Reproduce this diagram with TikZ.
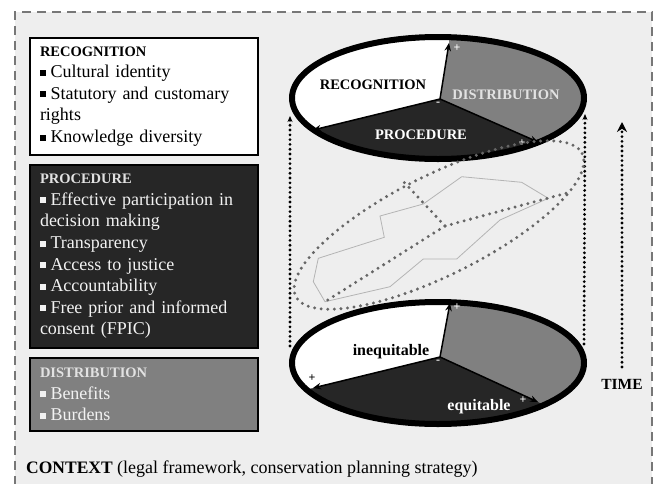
\documentclass[tikz,border=0pt]{standalone}
\usepackage{fontspec}
\setmainfont{Liberation Serif}
\usetikzlibrary{arrows.meta}
\definecolor{bgc}{HTML}{EEEEEE}
\definecolor{darkc}{HTML}{262626}
\definecolor{midc}{HTML}{808080}
\definecolor{dashc}{HTML}{777777}
\definecolor{dotg}{HTML}{666666}
\definecolor{polyc}{HTML}{B4B4B4}
\definecolor{ltc}{HTML}{E2E2E2}
\definecolor{txtw}{HTML}{F2F2F2}
\newcommand\sqbul{\rule[1.9pt]{6pt}{6pt}\hspace{4.5pt}}
\newcommand\boxttl{\fontsize{14.5}{21.6}\selectfont\bfseries}
\begin{document}
\begin{tikzpicture}[x=1pt,y=-1pt,
  infobox/.style={draw=black, line width=2.8pt, minimum width=228pt, text width=208pt,
    align=left, inner xsep=10pt, inner ysep=0pt, font=\fontsize{18}{21.6}\selectfont},
  rim/.style={draw=black, line width=6pt},
  spoke/.style={draw=black, line width=1.5pt, -{Stealth[length=8pt,width=6.5pt]}},
  piettl/.style={font=\fontsize{14.5}{16}\selectfont\bfseries, inner sep=0pt},
  eqlbl/.style={font=\fontsize{16}{18}\selectfont\bfseries, inner sep=0pt},
  sgn/.style={font=\fontsize{12}{12}\selectfont\bfseries, inner sep=0pt},
  bdot/.style={draw=black, line width=3.1pt, line cap=round, dash pattern=on 0pt off 4.8pt},
  gdot/.style={draw=dotg, line width=3.3pt, line cap=round, dash pattern=on 0pt off 6.6pt},
]
\useasboundingbox (0,0) rectangle (662,483);
% background and dashed frame
\fill[bgc] (15,12) rectangle (652,500);
\draw[dashc, line width=2.6pt, dash pattern=on 9pt off 6pt] (15,500) -- (15,12) -- (652,12) -- (652,500);

% left boxes
\node[infobox, fill=white, text=black, minimum height=117pt] (rec) at (144,96.5)
 {{\boxttl RECOGNITION}\\
  \sqbul Cultural identity\\
  \sqbul Statutory and customary\\
  rights\\
  \sqbul Knowledge diversity};
\node[infobox, fill=darkc, text=txtw, minimum height=183pt] (proc) at (144,256.5)
 {{\boxttl\color{ltc}PROCEDURE}\\
  \sqbul Effective participation in\\
  decision making\\
  \sqbul Transparency\\
  \sqbul Access to justice\\
  \sqbul Accountability\\
  \sqbul Free prior and informed\\
  consent (FPIC)};
\node[infobox, fill=midc, text=txtw, minimum height=73pt] (dist) at (144,394.5)
 {{\boxttl\color{ltc}DISTRIBUTION}\\
  \sqbul Benefits\\
  \sqbul Burdens};

\node[anchor=base west, inner sep=0pt, font=\fontsize{18}{21.6}\selectfont] (ctx) at (26,473)
 {{\fontsize{17.5}{21.6}\selectfont\bfseries CONTEXT} (legal framework, conservation planning strategy)};

% vertical dotted connectors
\coordinate (lbot) at (290,346);
\coordinate (ltop) at (290,116);
\coordinate (rbot) at (584,344);
\coordinate (rtop) at (585,114);
\draw[bdot, -{Stealth[length=6pt,width=5pt]}] (lbot) -- (ltop);
\draw[bdot, -{Stealth[length=6pt,width=5pt]}] (rbot) -- (rtop);

% time arrow
\coordinate (timebot) at (622,367);
\coordinate (timetop) at (622,122);
\draw[bdot, -{Stealth[length=10pt,width=10pt]}] (timebot) -- (timetop);
\node[font=\fontsize{15.5}{17}\selectfont\bfseries, inner sep=0pt] (time) at (622,384) {TIME};

% bottom pie
\coordinate (bc) at (440,357);
\coordinate (bt) at (450,303);
\coordinate (bl) at (313,388);
\coordinate (br) at (538,402);
\begin{scope}
  \clip (438,363) ellipse [x radius=146, y radius=61];
  \fill[darkc] (280,290) rectangle (600,440);
  \fill[white] (bc) -- (480,141) -- (-68,141) -- (-68,481) -- cycle;
  \fill[midc] (bc) -- (480,141) -- (900,141) -- (900,537) -- (832,537) -- cycle;
\end{scope}
\draw[rim] (438,363) ellipse [x radius=146, y radius=61];
\draw[spoke] (bc) -- (bt);
\draw[spoke] (bc) -- (bl);
\draw[spoke] (bc) -- (br);
\node[eqlbl, text=black] (ineq) at (391,352) {inequitable};
\node[eqlbl, text=white] (eq) at (479,407) {equitable};
\node[sgn, text=black] (bp1) at (312,378) {+};
\node[sgn, text=white] (bp2) at (457,307) {+};
\node[sgn, text=white] (bm) at (438,362) {-};
\node[sgn, text=white] (bp3) at (523,400) {+};

% top pie
\coordinate (tc) at (440,99);
\coordinate (tt) at (449,43);
\coordinate (tl) at (313,130);
\coordinate (tr) at (538,142);
\begin{scope}
  \clip (438,98) ellipse [x radius=146, y radius=61];
  \fill[darkc] (280,25) rectangle (600,175);
  \fill[white] (tc) -- (476,-125) -- (-68,-125) -- (-68,223) -- cycle;
  \fill[midc] (tc) -- (476,-125) -- (900,-125) -- (900,271) -- (832,271) -- cycle;
\end{scope}
\draw[rim] (438,98) ellipse [x radius=146, y radius=61];
\draw[spoke] (tc) -- (tt);
\draw[spoke] (tc) -- (tl);
\draw[spoke] (tc) -- (tr);
\node[piettl, text=black] (trec) at (373,85) {RECOGNITION};
\node[piettl, text=ltc] (tdist) at (506,95) {DISTRIBUTION};
\node[piettl, text=white] (tproc) at (421,135) {PROCEDURE};
\node[sgn, text=white] (tp1) at (457,48) {+};
\node[sgn, text=white] (tm) at (438,104) {-};
\node[sgn, text=white] (tp2) at (522,143) {+};

% middle: tilted ellipse and map outline
\draw[polyc, line width=0.8pt] (318.3,258.3) -- (313.3,281.7) -- (325,301.7) -- (390,286.7)
  -- (423.3,259) -- (456.7,259) -- (500,220) -- (548.3,198.3) -- (521.7,182.3)
  -- (461.7,176.7) -- (423.3,204) -- (380,216) -- (384.3,237.3) -- cycle;
\draw[gdot] plot[domain=0:360, samples=121, smooth]
  ({439+160*cos(\x)*cos(26.5)+50*sin(\x)*sin(26.5)}, {225-160*cos(\x)*sin(26.5)+50*sin(\x)*cos(26.5)});
\coordinate (mc) at (445,226);
\coordinate (mul) at (402,180);
\coordinate (mr) at (567,193);
\coordinate (mll) at (323,303);
\draw[gdot] (mc) -- (mul);
\draw[gdot] (mc) -- (mr);
\draw[gdot] (mc) -- (mll);
\end{tikzpicture}
\end{document}
